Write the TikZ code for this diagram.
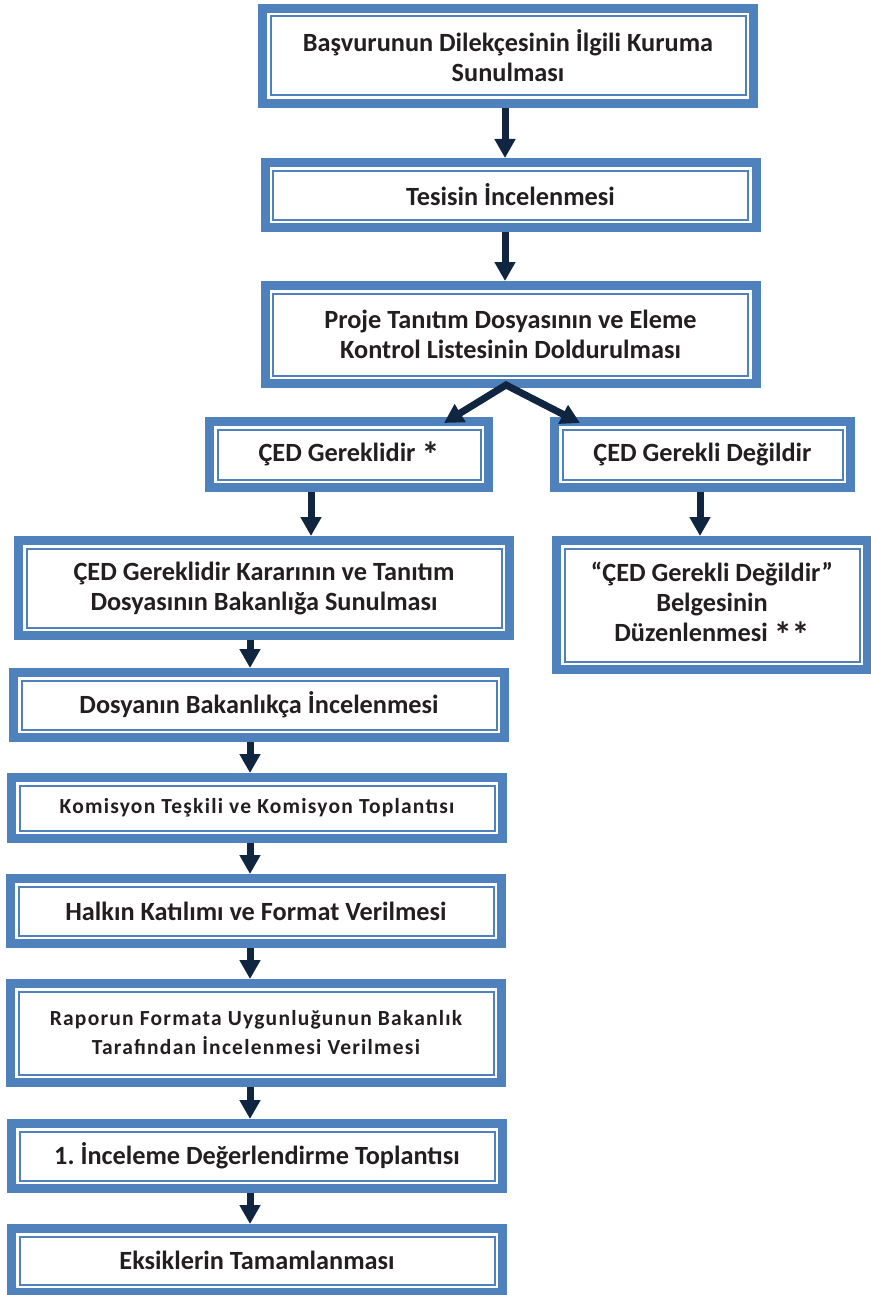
\documentclass[tikz,border=0pt]{standalone}
\usepackage{fontspec}
\setmainfont{Carlito}
\usetikzlibrary{arrows.meta,positioning}

\definecolor{frameblue}{HTML}{4F81BD}
\definecolor{arrownavy}{HTML}{10253F}
\definecolor{textdark}{HTML}{231F20}

\newcommand{\cedast}{\raisebox{-6pt}{\fontsize{36}{30}\selectfont*}}

\begin{document}
\begin{tikzpicture}[
    x=1pt, y=-1pt,
    >={Triangle[width=20pt,length=19pt]},
    stepbox/.style={rectangle, draw=frameblue, line width=9pt, fill=white, align=center, inner sep=0pt, minimum width=491pt, text=textdark, font=\fontsize{26.3}{30}\selectfont\bfseries\frenchspacing},
    smalltext/.style={font=\fontsize{21.5}{29}\selectfont\bfseries\addfontfeatures{LetterSpace=5.7}},
    innerframe/.style={draw=frameblue, line width=2pt},
    arrow/.style={->, line width=7pt, draw=arrownavy}
]
\useasboundingbox (0,0) rectangle (870,1295);

% arrow columns
\coordinate (upaxis) at (505,0);
\coordinate (leftaxis) at (311,0);
\coordinate (rightaxis) at (700,0);
\coordinate (lowaxis) at (250,0);

% Upper part
\node[stepbox, minimum height=95pt] (apply) at (508,56) {Başvurunun Dilekçesinin İlgili Kuruma\\Sunulması};
\node[stepbox, minimum height=65pt, below=50pt of apply, xshift=2.5pt] (site) {Tesisin İncelenmesi};
\node[stepbox, minimum height=98pt, below=49pt of site] (dossier) {Proje Tanıtım Dosyasının ve Eleme\\Kontrol Listesinin Doldurulması};

% Decision
\node[stepbox, minimum width=279pt, minimum height=66pt, below=29pt of dossier, xshift=-161.5pt] (required) {ÇED Gereklidir \cedast};
\node[stepbox, minimum width=296pt, minimum height=66pt, below=29pt of dossier, xshift=192pt] (notreq) {ÇED Gerekli Değildir};

% Not required branch
\node[stepbox, minimum width=311pt, minimum height=129pt, below=44pt of notreq, xshift=9.5pt] (certificate) {“ÇED Gerekli Değildir”\\Belgesinin\\Düzenlenmesi \cedast\cedast};

% Required branch
\node[stepbox, minimum height=95pt, below=44pt of required, xshift=-85pt] (submit) {ÇED Gereklidir Kararının ve Tanıtım\\Dosyasının Bakanlığa Sunulması};
\node[stepbox, minimum height=65pt, below=28pt of submit, xshift=-5pt] (review) {Dosyanın Bakanlıkça İncelenmesi};
\node[stepbox, smalltext, minimum height=61pt, below=31pt of review, xshift=-2pt] (commission) {Komisyon Teşkili ve Komisyon Toplantısı};
\node[stepbox, minimum height=65pt, below=31pt of commission, xshift=-1pt] (public) {Halkın Katılımı ve Format Verilmesi};
\node[stepbox, smalltext, minimum height=99pt, below=31pt of public] (format) {Raporun Formata Uygunluğunun Bakanlık\\Tarafından İncelenmesi Verilmesi};
\node[stepbox, minimum height=65pt, below=32pt of format, xshift=1pt] (meeting) {1. İnceleme Değerlendirme Toplantısı};
\node[stepbox, minimum height=64pt, below=31pt of meeting] (completion) {Eksiklerin Tamamlanması};

% Inner thin frames
\foreach \n in {apply,site,dossier,required,notreq,certificate,submit,review,commission,public,format,meeting,completion}
  \draw[innerframe] ([shift={(12.5pt,12.5pt)}]\n.south west) rectangle ([shift={(-12.5pt,-12.5pt)}]\n.north east);

% Arrows - main flow
\draw[arrow] (apply.south -| upaxis) -- (site.north -| upaxis);
\draw[arrow] (site.south -| upaxis) -- (dossier.north -| upaxis);

% Split
\draw[arrow, <->] ([xshift=95pt,yshift=-6pt]required.north) -- ([xshift=-4.5pt,yshift=3pt]dossier.south) -- ([xshift=-122.5pt,yshift=-6pt]notreq.north);

\draw[arrow] (required.south -| leftaxis) -- (submit.north -| leftaxis);
\draw[arrow] (notreq.south -| rightaxis) -- (certificate.north -| rightaxis);

% Lower column
\draw[arrow] (submit.south -| lowaxis) -- (review.north -| lowaxis);
\draw[arrow] (review.south -| lowaxis) -- (commission.north -| lowaxis);
\draw[arrow] (commission.south -| lowaxis) -- (public.north -| lowaxis);
\draw[arrow] (public.south -| lowaxis) -- (format.north -| lowaxis);
\draw[arrow] (format.south -| lowaxis) -- (meeting.north -| lowaxis);
\draw[arrow] (meeting.south -| lowaxis) -- (completion.north -| lowaxis);

\end{tikzpicture}
\end{document}
